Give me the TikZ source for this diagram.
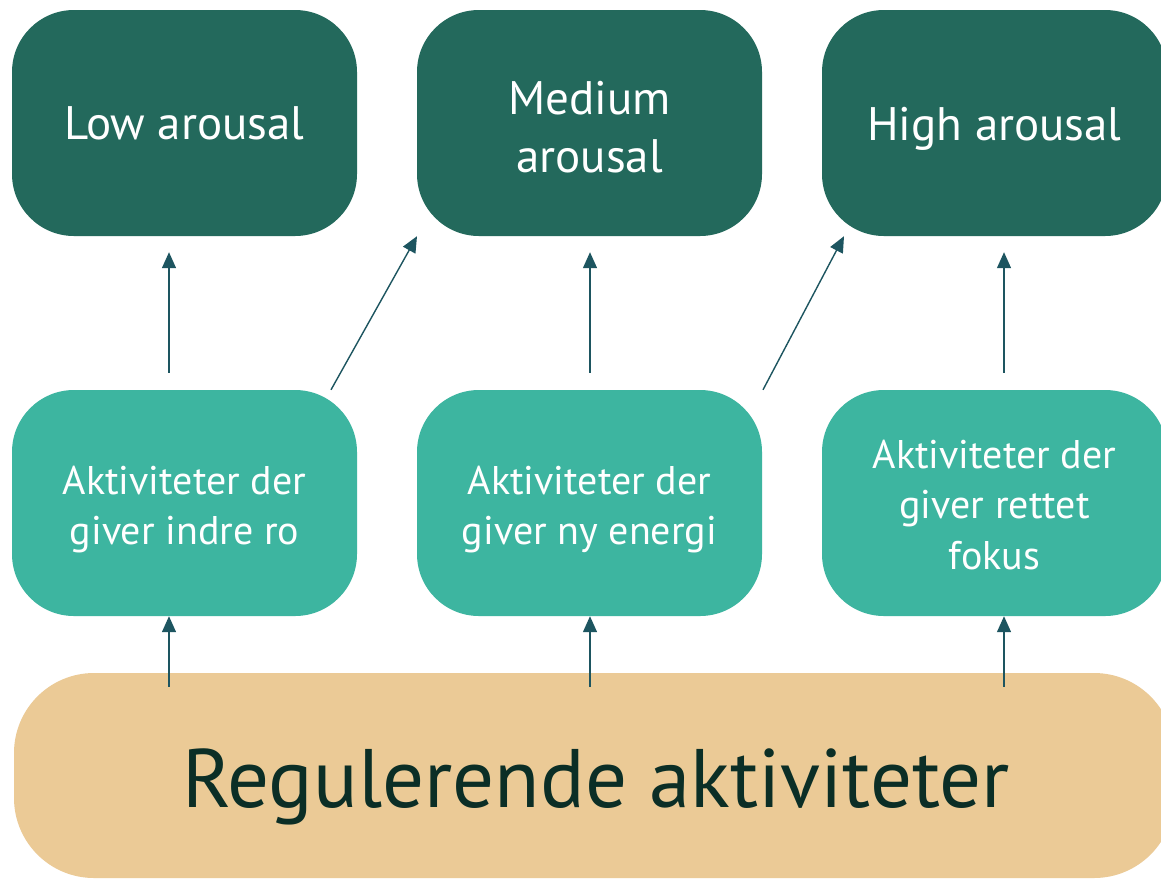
\documentclass[tikz,border=0pt]{standalone}
\usepackage{fontspec}
\setmainfont{PT Sans}
\usetikzlibrary{arrows.meta,calc}
\definecolor{topgreen}{HTML}{23695C}
\definecolor{midteal}{HTML}{3DB5A0}
\definecolor{basetan}{HTML}{EBCA96}
\definecolor{basetext}{HTML}{0B2E26}
\definecolor{arrowcol}{HTML}{1D5560}
\tikzset{
  topbox/.style={fill=topgreen, draw=none, rounded corners=62pt, minimum width=345pt, minimum height=226pt, inner sep=0pt},
  midbox/.style={fill=midteal, draw=none, rounded corners=62pt, minimum width=345pt, minimum height=226pt, inner sep=0pt},
  basebox/.style={fill=basetan, draw=none, rounded corners=80pt, minimum width=1160pt, minimum height=205pt, inner sep=0pt},
  toptext/.style={text=white, align=center, font=\fontsize{47}{58}\selectfont, inner sep=0pt},
  midtext/.style={text=white, align=center, font=\fontsize{40}{50.5}\selectfont, inner sep=0pt},
  basetxt/.style={text=basetext, align=center, font=\fontsize{83}{95}\selectfont, inner sep=0pt},
  arr/.style={draw=arrowcol, line width=1.4pt, -{Triangle[width=14pt,length=16pt]}}
}
\begin{document}
\begin{tikzpicture}[x=1pt,y=-1pt]
\useasboundingbox (0,0) rectangle (1161,879);
\clip (0,0) rectangle (1161,879);
\fill[white] (0,0) rectangle (1161,879);
% top row
\node[topbox] (t1) at (184.5,123) {};
\node[topbox] (t2) at (589.5,123) {};
\node[topbox] (t3) at (994.5,123) {};
\node[toptext] (t1txt) at (t1.center) {Low arousal};
\node[toptext] (t2txt) at ([yshift=-4pt]t2.center) {Medium\\arousal};
\node[toptext] (t3txt) at ([yshift=-6pt]t3.center) {High arousal};
% middle row
\node[midbox] (m1) at (184.5,503) {};
\node[midbox] (m2) at (589.5,503) {};
\node[midbox] (m3) at (994.5,503) {};
\node[midtext] (m1txt) at ([yshift=-6.5pt]m1.center) {Aktiviteter der\\giver indre ro};
\node[midtext] (m2txt) at ([yshift=-6.5pt]m2.center) {Aktiviteter der\\giver ny energi};
\node[midtext] (m3txt) at ([yshift=-2pt]m3.center) {Aktiviteter der\\giver rettet\\fokus};
% base
\node[basebox] (b) at (594,775.5) {};
\node[basetxt] (btxt) at ([xshift=2pt,yshift=-11pt]b.center) {Regulerende aktiviteter};
% arrows base -> middle
\draw[arr] ([xshift=-425pt,yshift=-14pt]b.north) -- ([xshift=-15.5pt]m1.south);
\draw[arr] ([xshift=-4pt,yshift=-14pt]b.north) -- ([xshift=0.5pt]m2.south);
\draw[arr] ([xshift=410pt,yshift=-14pt]b.north) -- ([xshift=9.5pt]m3.south);
% arrows middle -> top
\draw[arr, shorten <=17pt, shorten >=16pt] ([xshift=-15.5pt]m1.north) -- ([xshift=-15.5pt]t1.south);
\draw[arr, shorten <=17pt, shorten >=16pt] ([xshift=0.5pt]m2.north) -- ([xshift=0.5pt]t2.south);
\draw[arr, shorten <=17pt, shorten >=16pt] ([xshift=9.5pt]m3.north) -- ([xshift=9.5pt]t3.south);
\draw[arr] ([xshift=146.5pt]m1.north) -- ([xshift=-172.5pt]t2.south);
\draw[arr] ([xshift=173.5pt]m2.north) -- ([xshift=-150.5pt]t3.south);
\end{tikzpicture}
\end{document}
